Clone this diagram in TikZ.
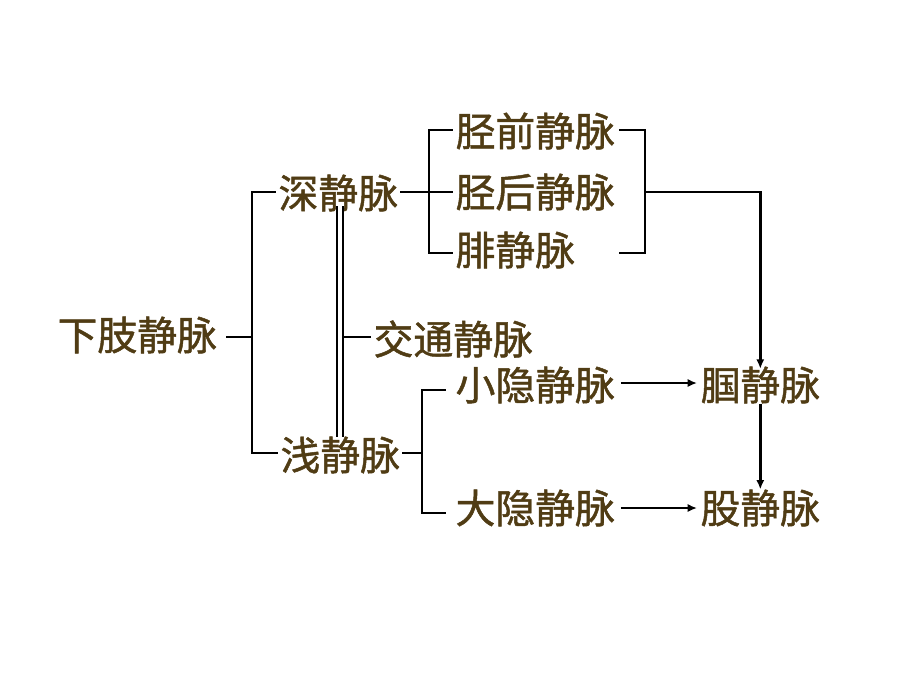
\documentclass[tikz,border=0pt]{standalone}
\usepackage{fontspec}
\newfontfamily\cjk[FakeBold=1.2]{Noto Sans CJK SC}
\usetikzlibrary{arrows.meta}
\definecolor{veinbrown}{RGB}{80,60,20}
\tikzset{
  vein/.style={anchor=west, inner xsep=0.1cm, inner ysep=0pt, text=veinbrown,
    font=\cjk\fontsize{34}{38}\selectfont},
  vline/.style={line width=2.5pt, line cap=rect},
  varrow/.style={line width=2.5pt, -{Latex[length=8pt,width=7pt]}}
}

\begin{document}
\begin{tikzpicture}[x=0.03cm,y=-0.03cm]
  \useasboundingbox (0,0) rectangle (920,690);
  % names of the veins
  \node[vein] (limb) at (54,335) {下肢静脉};
  \node[vein] (deep) at (275,193) {深静脉};
  \node[vein] (sup) at (277,455) {浅静脉};
  \node[vein] (commun) at (370,339) {交通静脉};
  \node[vein] (ant) at (452,131) {胫前静脉};
  \node[vein] (post) at (452,192) {胫后静脉};
  \node[vein] (fib) at (452,250) {腓静脉};
  \node[vein] (ssv) at (452,385) {小隐静脉};
  \node[vein] (gsv) at (452,508) {大隐静脉};
  \node[vein] (popl) at (697,385) {腘静脉};
  \node[vein] (fem) at (697,508) {股静脉};
  % junctions
  \coordinate (jl) at (252,337);
  \coordinate (jc) at (343,337);
  \coordinate (jd) at (429,192);
  \coordinate (jr) at (645,192);
  \coordinate (js) at (422,453);
  \coordinate (dtop) at (340,206);
  \coordinate (dbot) at (340,437);
  % deep and superficial
  \draw[vline,shorten <=6pt] (limb.east |- jl) -- (jl);
  \draw[vline] (deep.west |- 0,192) -| (jl) |- (sup.west |- 0,453);
  \draw[line width=2.2pt,double distance=3.2pt] (dtop) -- (dbot);
  \draw[vline] (jc) -- (commun.west |- jc);
  % deep branches
  \draw[vline] (deep.east |- jd) -- (post.west);
  \draw[vline] (ant.west |- 0,130) -| (jd) |- (fib.west |- 0,253);
  \draw[vline] ([xshift=2pt]ant.east |- 0,130) -| (jr) |- ([xshift=2pt]ant.east |- 0,253);
  \draw[varrow] (jr) -| ([yshift=-2pt]popl.north);
  % superficial branches
  \draw[vline] (sup.east |- js) -- (js);
  \draw[vline] ([xshift=-6pt]ssv.west |- 0,390) -| (js) |- ([xshift=-6pt]gsv.west |- 0,513);
  \draw[varrow] ([xshift=2pt]ssv.east |- 0,383) -- (popl.west |- 0,383);
  \draw[varrow] ([xshift=2pt]gsv.east) -- (fem.west);
  \draw[varrow] (popl.south) -- (fem.north);
\end{tikzpicture}
\end{document}
